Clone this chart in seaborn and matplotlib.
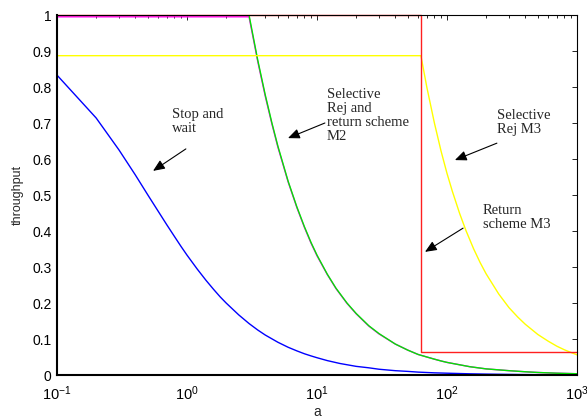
import matplotlib

matplotlib.use("Agg")
import matplotlib.pyplot as plt
import pandas as pd
import seaborn as sns

# stop and wait
SW_A = [0.1, 0.2, 0.3, 0.4, 0.5, 0.6, 0.7, 0.8, 0.9, 1, 1.2, 1.4, 1.6, 1.8,
        2, 2.5, 3, 3.5, 4, 5, 6, 7, 8, 9, 10, 12, 15, 20, 25, 30, 40, 50, 60,
        80, 100, 150, 200, 300, 400, 600, 1000]
SW_T = [0.833, 0.714, 0.625, 0.556, 0.500, 0.455, 0.417, 0.385, 0.357, 0.333,
        0.294, 0.263, 0.238, 0.217, 0.200, 0.167, 0.143, 0.125, 0.111, 0.091,
        0.077, 0.067, 0.059, 0.053, 0.048, 0.040, 0.032, 0.024, 0.020, 0.016,
        0.012, 0.010, 0.008, 0.006, 0.005, 0.0033, 0.0025, 0.0017, 0.0012,
        0.0008, 0.0005]

# selective rej and return scheme M2
M2_A = [0.1, 3, 3.5, 4, 4.5, 5, 6, 7, 8, 9, 10, 12, 14, 17, 20, 25, 30, 40,
        50, 60, 70, 80, 90, 100, 150, 200, 300, 400, 500, 700, 1000]
M2_T = [1.0, 1.0, 0.875, 0.778, 0.700, 0.636, 0.538, 0.467, 0.412, 0.368,
        0.333, 0.280, 0.241, 0.200, 0.171, 0.137, 0.115, 0.086,
        0.069, 0.057, 0.050, 0.044, 0.039, 0.035, 0.023, 0.017, 0.012,
        0.009, 0.007, 0.005, 0.0035]
M2B_T = [0.995, 0.995, 0.871, 0.774, 0.697, 0.633, 0.536, 0.465, 0.410, 0.366,
         0.331, 0.279, 0.240, 0.199, 0.170, 0.136, 0.114, 0.086,
         0.069, 0.057, 0.050, 0.044, 0.039, 0.035, 0.023, 0.017, 0.012,
         0.009, 0.007, 0.005, 0.0035]

# return scheme M3
RET_A = [0.1, 63, 63, 1000]
RET_T = [1.0, 1.0, 0.065, 0.065]

# selective rej M3
SEL_A = [0.1, 63, 70, 80, 90, 100, 110, 125, 140, 160, 180, 200, 250, 300,
         350, 400, 500, 600, 700, 800, 900, 1000]
SEL_T = [0.887, 0.887, 0.799, 0.700, 0.622, 0.560, 0.510, 0.449, 0.401, 0.351,
         0.312, 0.281, 0.225, 0.187, 0.161, 0.141, 0.1125, 0.094, 0.080,
         0.070, 0.0625, 0.056]

Y_TICKS = [0, 0.1, 0.2, 0.3, 0.4, 0.5, 0.6, 0.7, 0.8, 0.9, 1]
Y_LABELS = ["0", "0.1", "0.2", "0.3", "0.4", "0.5", "0.6", "0.7", "0.8", "0.9", "1"]
X_TICKS = [0.1, 1, 10, 100, 1000]
X_LABELS = [r"$\mathregular{10^{-1}}$", r"$\mathregular{10^{0}}$",
            r"$\mathregular{10^{1}}$", r"$\mathregular{10^{2}}$",
            r"$\mathregular{10^{3}}$"]

# (text, text position, arrow tail, arrow tip)
NOTES = [
    ("Stop and\nwait", (0.767, 0.742), (0.98, 0.628), (0.548, 0.567)),
    ("Selective\nRej and\nreturn scheme\nM2", (11.9, 0.797), (11.5, 0.70), (5.98, 0.658)),
    ("Selective\nRej M3", (242, 0.740), (242, 0.644), (115, 0.597)),
    ("Return\nscheme M3", (189, 0.475), (133, 0.408), (67.7, 0.342)),
]


def setup_style() -> None:
    sns.set_theme(style="white")
    plt.rcParams.update(
        {
            "font.family": ["Liberation Sans", "DejaVu Sans"],
            "font.size": 10,
            "xtick.direction": "in",
            "ytick.direction": "in",
            "xtick.top": True,
            "ytick.right": True,
            "axes.edgecolor": "black",
        }
    )


def series(a, t):
    return pd.DataFrame({"a": a, "throughput": t})


def main() -> None:
    setup_style()
    fig = plt.figure(figsize=(5.87, 4.19), dpi=100)
    ax = fig.add_axes([57 / 587, 44 / 419, 520 / 587, 360 / 419])

    kw = dict(x="a", y="throughput", estimator=None, sort=False, linewidth=1.0, ax=ax)
    sns.lineplot(data=series(SW_A, SW_T), color="#0000ff", **kw)
    sns.lineplot(data=series(M2_A, M2B_T), color="#ff00ff", **kw)
    sns.lineplot(data=series(M2_A, M2_T), color="#00e600", **kw)
    sns.lineplot(data=series(SEL_A, SEL_T), color="#ffff00", **kw)
    sns.lineplot(data=series(RET_A, RET_T), color="#ff2020", clip_on=False, **kw)

    ax.set_xscale("log")
    ax.set_xlim(0.1, 1000)
    ax.set_ylim(0, 1)
    ax.set_xticks(X_TICKS)
    ax.set_xticklabels(X_LABELS, fontsize=10.5)
    ax.set_yticks(Y_TICKS)
    ax.set_yticklabels(Y_LABELS, fontsize=10)
    ax.tick_params(which="major", length=3.5, width=0.6, pad=4, colors="black")
    ax.tick_params(axis="x", which="major", pad=7)
    ax.tick_params(which="minor", length=2.5, width=0.6, colors="black")
    ax.set_xlabel("a", fontsize=10, labelpad=1)
    ax.set_ylabel("throughput", fontsize=9, labelpad=6)
    ax.grid(False)
    for side in ["left", "bottom"]:
        ax.spines[side].set_linewidth(1.5)
    for side in ["top", "right"]:
        ax.spines[side].set_linewidth(0.8)

    for text, pos, tail, tip in NOTES:
        ax.text(pos[0], pos[1], text, fontsize=10.5, va="top", ha="left",
                family=["Liberation Serif", "DejaVu Serif"], linespacing=1.1)
        ax.annotate("", xy=tip, xytext=tail,
                    arrowprops=dict(arrowstyle="-|>,head_length=0.7,head_width=0.3",
                                    color="black", lw=0.8, shrinkA=0, shrinkB=0))

    fig.savefig("out.png", dpi=100, facecolor="white")


if __name__ == "__main__":
    main()
